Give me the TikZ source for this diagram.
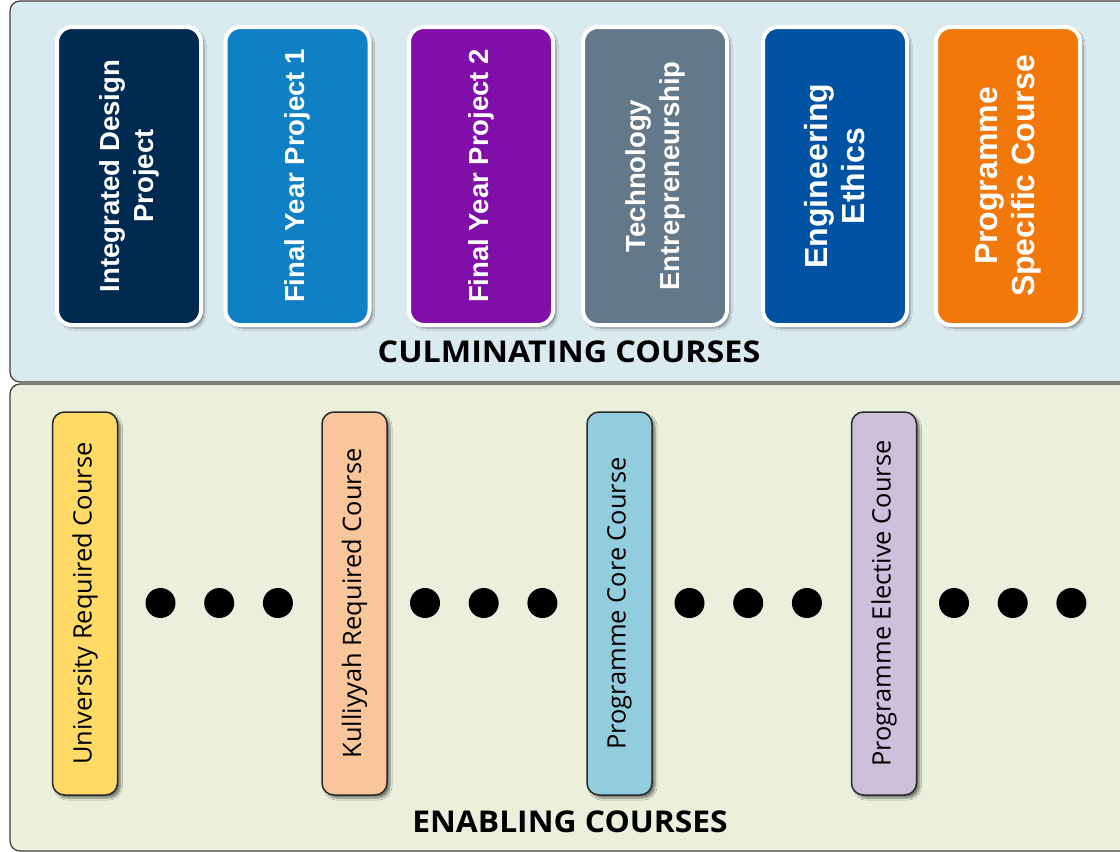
\documentclass[tikz,border=0pt]{standalone}
\usepackage{fontspec}
\usepackage{graphicx}
\setmainfont{Liberation Sans}
\newfontfamily\osans{Open Sans}
\usetikzlibrary{shadows.blur}
\definecolor{toppanel}{RGB}{218,235,240}
\definecolor{botpanel}{RGB}{234,240,220}
\definecolor{panelline}{RGB}{60,60,60}
\definecolor{cnavy}{RGB}{0,42,80}
\definecolor{cblue}{RGB}{16,128,196}
\definecolor{cpurple}{RGB}{128,14,168}
\definecolor{cgray}{RGB}{99,120,136}
\definecolor{cdblue}{RGB}{0,82,162}
\definecolor{corange}{RGB}{242,120,12}
\definecolor{cyellow}{RGB}{255,218,102}
\definecolor{cpeach}{RGB}{248,198,154}
\definecolor{clblue}{RGB}{146,205,221}
\definecolor{clav}{RGB}{204,192,218}
\definecolor{boxline}{RGB}{40,40,40}
\tikzset{
  panel/.style={draw=panelline, line width=1.2pt, rounded corners=10pt},
  culbox/.style={draw=white, line width=4pt, rounded corners=15pt, minimum width=144pt, minimum height=298pt, inner sep=0pt,
    blur shadow={shadow xshift=3pt, shadow yshift=-3pt, shadow blur steps=6, shadow opacity=45}},
  cultext/.style={rotate=90, align=center, text=white, font=\fontsize{27.5}{34}\selectfont\bfseries},
  cultextbig/.style={cultext, font=\fontsize{32}{37}\selectfont\bfseries},
  enbox/.style={draw=boxline, line width=1.5pt, rounded corners=12pt, minimum width=65pt, minimum height=383pt, inner sep=0pt,
    blur shadow={shadow xshift=3pt, shadow yshift=-3pt, shadow blur steps=6, shadow opacity=50}},
  entext/.style={rotate=90, align=center, text=black, font=\osans\fontsize{25.4}{30}\selectfont},
  heading/.style={font=\osans\bfseries\fontsize{30}{34}\selectfont, text=black},
  dot/.style={circle, fill=black, minimum size=30pt, inner sep=0pt}
}
\begin{document}
\begin{tikzpicture}[x=1pt,y=-1pt]
\useasboundingbox (0,0) rectangle (1120,852);
\fill[white] (0,0) rectangle (1120,852);
\draw[panel, fill=toppanel] (10,1) rectangle (1135,382);
\draw[panel, fill=botpanel] (10,384) rectangle (1135,851);

\node[culbox, fill=cnavy]   (t1) at (129,176) {};
\node[culbox, fill=cblue]   (t2) at (297.5,176) {};
\node[culbox, fill=cpurple] (t3) at (481,176) {};
\node[culbox, fill=cgray]   (t4) at (655,176) {};
\node[culbox, fill=cdblue]  (t5) at (835,176) {};
\node[culbox, fill=corange] (t6) at (1008,176) {};
\node[cultext] (l1) at (t1) {Integrated Design\\Project};
\node[cultext] (l2) at (t2) {Final Year Project 1};
\node[cultext] (l3) at (t3) {Final Year Project 2};
\node[cultext] (l4) at (t4) {Technology\\Entrepreneurship};
\node[cultextbig] (l5) at (t5) {Engineering\\Ethics};
\node[cultextbig] (l6) at (t6) {Programme\\Specific Course};
\node[heading] (h1) at (569,352) {\scalebox{1.075}[1]{CULMINATING COURSES}};

\node[enbox, fill=cyellow] (e1) at (85,603.5) {};
\node[enbox, fill=cpeach]  (e2) at (354.5,603.5) {};
\node[enbox, fill=clblue]  (e3) at (619.5,603.5) {};
\node[enbox, fill=clav]    (e4) at (884,603.5) {};
\node[entext] (m1) at (e1) {University Required Course};
\node[entext] (m2) at (e2) {Kulliyyah Required Course};
\node[entext] (m3) at (e3) {Programme Core Course};
\node[entext] (m4) at (e4) {Programme Elective Course};

\foreach \g in {0,1,2,3}{
  \foreach \k in {0,1,2}{
    \node[dot] (d\g\k) at ({160.5+264.5*\g+58.7*\k},603) {};
  }
}
\node[heading] (h2) at (570,822) {\scalebox{1.06}[1]{ENABLING COURSES}};
\end{tikzpicture}
\end{document}
